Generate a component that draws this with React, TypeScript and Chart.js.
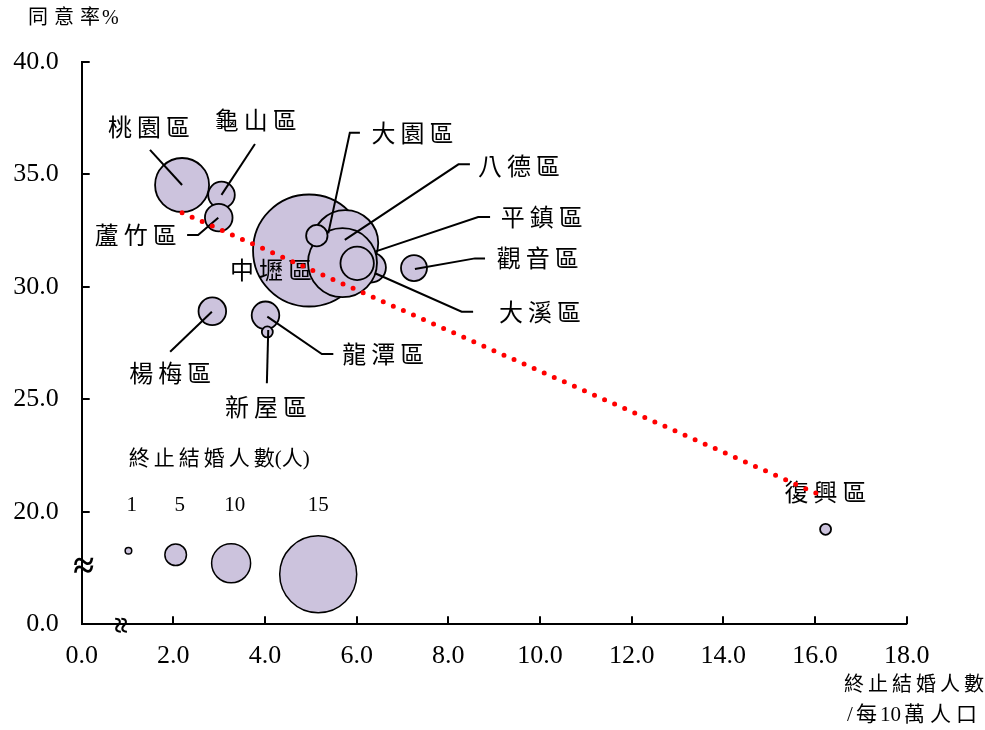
import React, { useEffect, useRef } from "react";
import { Chart, registerables } from "chart.js";

Chart.register(...registerables);

// ---------------- data ----------------
const districts = ["桃園區", "龜山區", "蘆竹區", "中壢區", "大溪區", "八德區", "平鎮區", "—", "大園區", "觀音區", "楊梅區", "龍潭區", "新屋區", "復興區"];
const divorceRate = [2.19, 3.05, 2.99, 4.96, 6.31, 5.75, 5.69, 6.01, 5.13, 7.25, 2.85, 4.01, 4.05, 16.23];
const agreeRate = [34.52, 34.08, 33.07, 31.61, 30.85, 31.94, 31.07, 31.04, 32.27, 30.83, 28.91, 28.73, 27.99, 19.22];
const bubbleSize = [27, 13.3, 13.8, 56, 15, 33, 34.5, 16.7, 10.7, 13, 13.8, 13.8, 5.5, 5.5];

const trendX = [2.19, 16.15];
const trendY = [33.29, 20.71];

const legendCounts = ["1", "5", "10", "15"];
const legendX = [1.02, 2.05, 3.26, 5.16];
const legendY = [18.27, 18.09, 17.71, 17.22];
const legendSize = [3.3, 10.8, 19.5, 38.5];
const legendLabelX = [1.09, 2.14, 3.34, 5.16];
const legendLabelY = 20.3;
const legendTitle = "終止結婚人數(人)";
const legendTitleX = 3.0;
const legendTitleY = 22.39;

const labelTexts = ["桃園區", "龜山區", "蘆竹區", "大園區", "八德區", "平鎮區", "觀音區", "中壢區", "大溪區", "楊梅區", "龍潭區", "新屋區", "復興區"];
const labelX = [1.47, 3.8, 1.18, 7.22, 9.54, 10.04, 9.95, 4.13, 10.0, 1.93, 6.58, 4.02, 16.23];
const labelY = [37.05, 37.36, 32.25, 36.79, 35.33, 33.05, 31.23, 30.7, 28.85, 26.12, 26.96, 24.63, 20.83];
const leaderLines: number[][][] = [
  [[1.49, 36.08], [2.19, 34.52]],
  [[3.78, 36.34], [3.05, 34.08]],
  [[2.3, 32.3], [2.54, 32.3], [2.98, 33.07]],
  [[6.07, 36.84], [5.85, 36.84], [5.38, 32.37]],
  [[8.47, 35.44], [8.22, 35.44], [5.74, 32.08]],
  [[8.91, 33.1], [8.65, 33.1], [6.4, 31.56]],
  [[8.8, 31.26], [8.58, 31.26], [7.27, 30.79]],
  [[6.4, 30.6], [8.29, 28.89], [8.54, 28.89]],
  [[2.84, 28.89], [1.93, 27.11]],
  [[4.05, 28.67], [5.24, 27.01], [5.49, 27.01]],
  [[4.07, 28.08], [4.04, 25.71]],
];

const yTickValues = [15, 20, 25, 30, 35, 40];
const yTickLabels = ["0.0", "20.0", "25.0", "30.0", "35.0", "40.0"];
const xMin = 0;
const xMax = 18;
const xStep = 2;
const yBreakValue = 17.5;
const xBreakValue = 0.8;

const yTitle = "同意率%";
const xTitle1 = "終止結婚人數";
const xTitle2 = "/每10萬人口";

// ---------------- styles ----------------
const SERIF = '"Liberation Serif", "Times New Roman", serif';
const MIX = '"Liberation Serif", "Noto Sans CJK TC", serif';
const FILL = "#CCC3DD";

const isCJK = (c: string) => /[\u2E80-\u9FFF\uF900-\uFAFF]/.test(c);

function drawSpaced(
  ctx: CanvasRenderingContext2D,
  text: string,
  x: number,
  y: number,
  spacing: number,
  align: "left" | "center" | "right",
  mixedSpacing = 0
) {
  const chars = Array.from(text);
  const widths = chars.map((c) => ctx.measureText(c).width);
  const gaps = chars.map((c, i) => {
    if (i >= chars.length - 1) return 0;
    const a = isCJK(c);
    const b = isCJK(chars[i + 1]);
    if (a && b) return spacing;
    if (a || b) return mixedSpacing;
    return 0;
  });
  const total = widths.reduce((s, w) => s + w, 0) + gaps.reduce((s, g) => s + g, 0);
  let cx = align === "left" ? x : align === "center" ? x - total / 2 : x - total;
  ctx.textAlign = "left";
  chars.forEach((c, i) => {
    ctx.fillText(c, cx, y);
    cx += widths[i] + gaps[i];
  });
}

const annotationPlugin = {
  id: "annot",
  afterDatasetDraw(chart: any, args: any) {
    if (args.index !== 1) return;
    const ctx = chart.ctx as CanvasRenderingContext2D;
    const xs = chart.scales.x;
    const ys = chart.scales.y;
    ctx.save();
    ctx.strokeStyle = "#000";
    ctx.lineWidth = 2;
    leaderLines.forEach((path) => {
      ctx.beginPath();
      path.forEach(([vx, vy], i) => {
        const px = xs.getPixelForValue(vx);
        const py = ys.getPixelForValue(vy);
        if (i === 0) ctx.moveTo(px, py);
        else ctx.lineTo(px, py);
      });
      ctx.stroke();
    });
    ctx.fillStyle = "#000";
    ctx.textBaseline = "middle";
    ctx.font = `24px ${MIX}`;
    labelTexts.forEach((t, i) => {
      drawSpaced(ctx, t, xs.getPixelForValue(labelX[i]), ys.getPixelForValue(labelY[i]) + 2, 5, "center");
    });
    // size legend
    ctx.font = `21px ${MIX}`;
    drawSpaced(ctx, legendTitle, xs.getPixelForValue(legendTitleX), ys.getPixelForValue(legendTitleY) + 1, 4, "center");
    ctx.font = `21px ${SERIF}`;
    ctx.textAlign = "center";
    legendCounts.forEach((t, i) => {
      ctx.fillText(t, xs.getPixelForValue(legendLabelX[i]), ys.getPixelForValue(legendLabelY));
    });
    ctx.restore();
  },
  afterDraw(chart: any) {
    const ctx = chart.ctx as CanvasRenderingContext2D;
    const xs = chart.scales.x;
    const ys = chart.scales.y;
    const a = chart.chartArea;
    ctx.save();
    ctx.strokeStyle = "#000";
    ctx.lineWidth = 2;
    // inside tick marks
    for (let v = xMin + xStep; v <= xMax; v += xStep) {
      const px = Math.round(xs.getPixelForValue(v));
      ctx.beginPath();
      ctx.moveTo(px, a.bottom);
      ctx.lineTo(px, a.bottom - 8);
      ctx.stroke();
    }
    yTickValues.slice(1).forEach((v) => {
      const py = Math.round(ys.getPixelForValue(v));
      ctx.beginPath();
      ctx.moveTo(a.left, py);
      ctx.lineTo(a.left + 8, py);
      ctx.stroke();
    });
    // axis breaks
    ctx.fillStyle = "#000";
    ctx.textAlign = "center";
    ctx.textBaseline = "middle";
    ctx.font = `bold 38px ${SERIF}`;
    ctx.fillText("≈", a.left + 2, ys.getPixelForValue(yBreakValue));
    ctx.save();
    ctx.translate(xs.getPixelForValue(xBreakValue), a.bottom + 1);
    ctx.rotate(Math.PI / 2);
    ctx.font = `bold 30px ${SERIF}`;
    ctx.fillText("≈", 0, 0);
    ctx.restore();
    // axis titles
    ctx.textBaseline = "middle";
    ctx.font = `20px ${MIX}`;
    drawSpaced(ctx, yTitle, 28, 19, 6, "left", 2);
    drawSpaced(ctx, xTitle1, 914, 686, 4, "center");
    ctx.font = `21px ${MIX}`;
    drawSpaced(ctx, xTitle2, 912, 715, 5, "center", 3);
    ctx.restore();
  },
};

export default function App() {
  const ref = useRef<HTMLCanvasElement | null>(null);
  useEffect(() => {
    if (!ref.current) return;
    const chart = new Chart(ref.current, {
      type: "bubble",
      data: {
        datasets: [
          {
            type: "line",
            label: "trend",
            data: trendX.map((x, i) => ({ x, y: trendY[i] })),
            borderColor: "#FF0000",
            borderWidth: 5,
            borderDash: [0, 11],
            borderCapStyle: "round",
            pointRadius: 0,
            fill: false,
            clip: false,
          } as any,
          {
            label: "districts",
            data: divorceRate.map((x, i) => ({ x, y: agreeRate[i], r: bubbleSize[i], name: districts[i] })),
            backgroundColor: FILL,
            borderColor: "#000",
            borderWidth: 1.8,
            clip: false,
          } as any,
          {
            label: "size legend",
            data: legendX.map((x, i) => ({ x, y: legendY[i], r: legendSize[i] })),
            backgroundColor: FILL,
            borderColor: "#000",
            borderWidth: 1.5,
            clip: false,
          } as any,
        ],
      },
      options: {
        animation: false,
        responsive: false,
        events: [],
        layout: { padding: { left: 11.7, top: 61.7, right: 78.3, bottom: 65.7 } },
        plugins: { legend: { display: false }, tooltip: { enabled: false } },
        scales: {
          x: {
            type: "linear",
            min: xMin,
            max: xMax,
            ticks: {
              stepSize: xStep,
              callback: (v: any) => Number(v).toFixed(1),
              font: { family: SERIF, size: 26 },
              color: "#000",
              padding: 16,
              maxRotation: 0,
              autoSkip: false,
            },
            grid: { display: false, drawTicks: false },
            border: { display: true, color: "#000", width: 2 },
            afterFit: (s: any) => {
              s.height = 40;
            },
          },
          y: {
            type: "linear",
            min: yTickValues[0],
            max: yTickValues[yTickValues.length - 1],
            afterBuildTicks: (s: any) => {
              s.ticks = yTickValues.map((v) => ({ value: v }));
            },
            ticks: {
              callback: (_v: any, i: number) => yTickLabels[i],
              font: { family: SERIF, size: 26 },
              color: "#000",
              padding: 23,
              autoSkip: false,
            },
            grid: { display: false, drawTicks: false },
            border: { display: true, color: "#000", width: 2 },
            afterFit: (s: any) => {
              s.width = 70;
            },
          },
        },
      } as any,
      plugins: [annotationPlugin],
    });
    return () => chart.destroy();
  }, []);
  return (
    <div style={{ position: "absolute", left: 0, top: 0, width: 985, height: 730, background: "#fff" }}>
      <canvas ref={ref} width={985} height={730} style={{ width: 985, height: 730 }} />
    </div>
  );
}
